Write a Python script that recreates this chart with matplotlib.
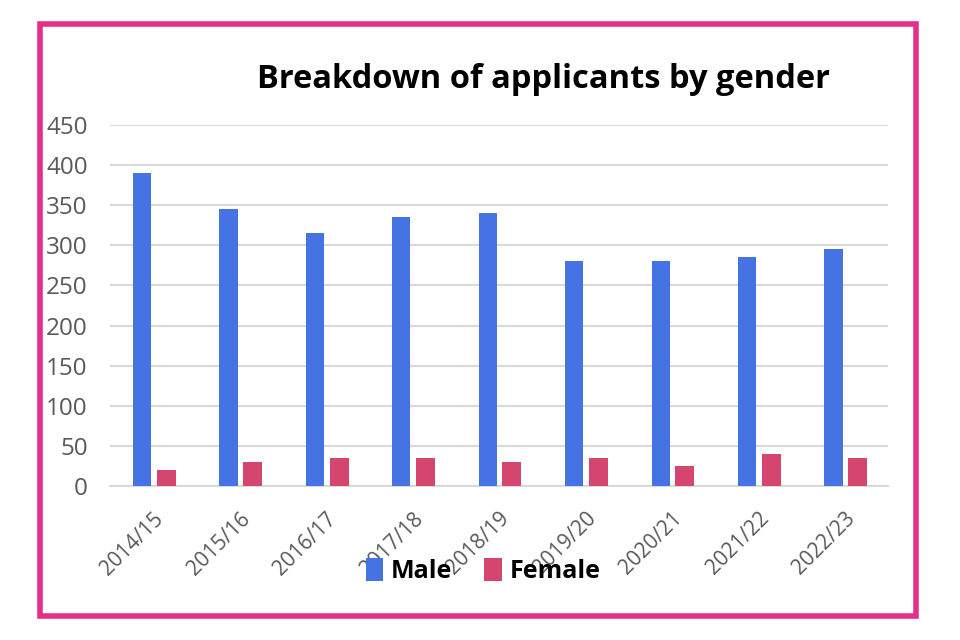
import matplotlib
matplotlib.use('Agg')
import matplotlib.pyplot as plt
import numpy as np
from matplotlib.patches import Rectangle
from matplotlib import font_manager

years = ['2014/15', '2015/16', '2016/17', '2017/18', '2018/19',
         '2019/20', '2020/21', '2021/22', '2022/23']
male = [390, 345, 315, 335, 340, 280, 280, 285, 295]
female = [20, 30, 35, 35, 30, 35, 25, 40, 35]
y_ticks = [0, 50, 100, 150, 200, 250, 300, 350, 400, 450]

names = {f.name for f in font_manager.fontManager.ttflist}
narrow = 'Liberation Sans Narrow' if 'Liberation Sans Narrow' in names else 'Open Sans'
plt.rcParams['font.family'] = [narrow, 'DejaVu Sans']

fig = plt.figure(figsize=(9.6, 6.4), dpi=100)
ax = fig.add_axes([110 / 960, 1 - 486 / 640, 778 / 960, 361 / 640])

x = np.arange(len(years))
ax.bar(x - 0.13, male, width=0.21, color='#4573e3', label='Male', zorder=3)
ax.bar(x + 0.15, female, width=0.22, color='#d4456f', label='Female', zorder=3)

ax.set_xlim(-0.5, len(years) - 0.5)
ax.set_ylim(0, 450)
ax.set_yticks(y_ticks)
ax.set_yticklabels([str(v) for v in y_ticks], fontsize=17.5, color='#595959')
ax.set_xticks(x)
ax.set_xticklabels(years, rotation=45, ha='right', rotation_mode='anchor',
                   fontsize=15, color='#595959')
ax.tick_params(axis='both', length=0)
ax.tick_params(axis='y', pad=16)
ax.tick_params(axis='x', pad=16)
ax.grid(axis='y', color='#d9d9d9', linewidth=1.5, zorder=0)
for side in ['top', 'right', 'left']:
    ax.spines[side].set_visible(False)
ax.spines['bottom'].set_color('#d9d9d9')
ax.spines['bottom'].set_linewidth(1.5)

fig.text(543 / 960, 1 - 79 / 640, 'Breakdown of applicants by gender',
         ha='center', va='center', fontsize=23.5, fontweight='bold', color='black')

fig.legend(loc='center', bbox_to_anchor=(483 / 960, 1 - 571 / 640), ncol=2,
           frameon=False, prop={'size': 18, 'weight': 'bold'},
           handlelength=0.7, handleheight=1.0, handletextpad=0.3, columnspacing=1.3)

fig.patches.append(Rectangle((40 / 960, 1 - 616 / 640), 876 / 960, 592 / 640,
                             transform=fig.transFigure, fill=False,
                             edgecolor='#e0308a', linewidth=4))

fig.savefig('out.png', dpi=100)
